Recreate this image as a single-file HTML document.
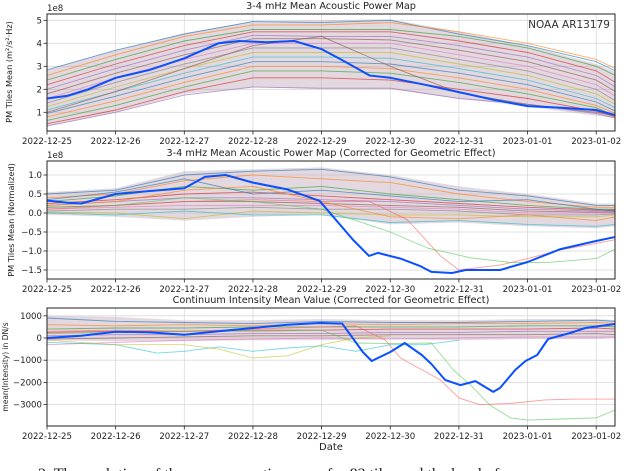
<!DOCTYPE html>
<html><head><meta charset="utf-8"><style>
html,body{margin:0;padding:0;background:#fff;width:640px;height:471px;overflow:hidden}
svg{display:block;font-family:"DejaVu Sans","Liberation Sans",sans-serif}
</style></head><body>
<svg id="chart" width="640" height="471" viewBox="0 0 640 471" style="position:absolute;left:0;top:0"></svg>
<script>
// ---------- DATA ----------
const dateTicks = ["2022-12-25","2022-12-26","2022-12-27","2022-12-28","2022-12-29","2022-12-30","2022-12-31","2023-01-01","2023-01-02"];
const gridDays = [0,1,2,3,4,5,6,7,8,8.28];

// Panel 1 (units 1e8)
const p1Ticks = [1,2,3,4,5];
const p1BandUpper = [2.85,3.7,4.45,4.95,5.0,5.05,4.5,3.9,3.1,2.75];
const p1BandLower = [0.4,1.0,1.8,2.1,2.0,2.0,1.6,1.25,0.85,0.75];
const p1Lines = [
 [2.85,3.7,4.4,4.95,4.9,5.0,4.4,3.9,3.2,2.8],
 [2.6,3.5,4.3,4.8,4.8,4.9,4.5,4.0,3.3,2.9],
 [2.4,3.3,4.1,4.6,4.6,4.6,4.3,3.8,3.0,2.6],
 [2.2,3.1,3.9,4.5,4.5,4.5,4.1,3.6,2.8,2.3],
 [2.0,2.9,3.7,4.35,4.3,4.3,3.9,3.4,2.6,2.1],
 [1.8,2.7,3.5,4.2,4.2,4.15,3.7,3.2,2.4,1.9],
 [1.6,2.5,3.3,4.0,4.0,4.0,3.5,3.0,2.2,1.7],
 [1.4,2.3,3.1,3.8,3.8,3.8,3.3,2.8,2.0,1.5],
 [1.25,2.1,2.9,3.6,3.6,3.6,3.1,2.6,1.8,1.35],
 [1.1,1.9,2.7,3.4,3.4,3.35,2.9,2.4,1.6,1.2],
 [0.95,1.7,2.5,3.2,3.2,3.1,2.7,2.2,1.45,1.05],
 [0.8,1.5,2.3,3.0,3.0,2.9,2.5,2.0,1.3,0.95],
 [0.65,1.3,2.1,2.8,2.8,2.7,2.3,1.8,1.2,0.85],
 [0.5,1.1,1.9,2.5,2.5,2.4,2.0,1.6,1.05,0.8],
 [0.4,1.0,1.75,2.1,2.05,2.05,1.6,1.35,0.95,0.75],
 [1.0,1.9,2.9,3.9,4.3,3.0,1.85,1.35,1.0,0.85]
];
const p1BlueDays = [0,0.3,0.6,1,1.5,2,2.5,2.8,3.2,3.6,4,4.3,4.7,5,5.5,6,6.5,7,7.5,8,8.28];
const p1Blue =     [1.6,1.72,2.0,2.5,2.85,3.35,4.0,4.1,4.05,4.1,3.75,3.27,2.6,2.5,2.2,1.88,1.55,1.27,1.2,1.1,0.88];

// Panel 2 (units 1e8)
const p2Ticks = [-1.5,-1.0,-0.5,0.0,0.5,1.0];
const p2BandUpper = [0.55,0.65,1.1,1.15,1.2,1.0,0.7,0.5,0.25,0.25];
const p2BandLower = [-0.05,-0.1,-0.2,-0.1,-0.05,-0.3,-0.25,-0.35,-0.4,-0.35];
const p2Lines = [
 [0.5,0.6,1.0,1.1,1.15,0.95,0.6,0.45,0.2,0.2],
 [0.4,0.5,0.85,1.0,0.9,0.8,0.5,0.3,0.15,0.15],
 [0.3,0.45,0.7,0.6,0.7,0.5,0.35,0.2,0.1,0.1],
 [0.25,0.35,0.5,0.55,0.45,0.35,0.25,0.15,0.08,0.08],
 [0.2,0.3,0.4,0.4,0.35,0.3,0.2,0.1,0.05,0.05],
 [0.15,0.2,0.3,0.3,0.25,0.2,0.15,0.05,0.02,0.03],
 [0.1,0.15,0.2,0.2,0.2,0.15,0.1,0.0,0.0,0.0],
 [0.05,0.1,0.1,0.15,0.1,0.1,0.05,-0.05,-0.05,-0.02],
 [0.02,0.0,-0.15,0.05,0.0,-0.05,-0.05,-0.1,-0.1,-0.05],
 [0.0,-0.05,0.05,-0.05,-0.05,-0.25,-0.2,-0.3,-0.35,-0.3],
 [0.35,0.55,0.9,0.5,0.6,0.45,0.3,0.35,0.1,0.05],
 [0.2,0.3,0.6,0.7,0.3,-0.1,-0.15,-0.05,-0.2,-0.1]
];
const p2BlueDays = [0,0.3,0.5,1,1.5,2,2.3,2.6,3,3.5,3.97,4.46,4.69,4.82,5.15,5.44,5.6,5.9,6.1,6.6,7,7.48,7.99,8.28];
const p2Blue =     [0.33,0.27,0.25,0.5,0.58,0.65,0.95,1.0,0.8,0.62,0.32,-0.71,-1.13,-1.05,-1.2,-1.4,-1.55,-1.58,-1.5,-1.5,-1.29,-0.95,-0.74,-0.63];
const p2RedDays = [0,1,2,3,4,4.7,5.25,5.73,6,6.6,7,7.48,8,8.28];
const p2Red =     [0.1,0.2,0.3,0.35,0.3,0.3,-0.18,-1.13,-1.5,-1.37,-1.2,-0.97,-0.8,-0.7];
const p2GreenDays = [0,1,2,3,4,4.5,5,5.54,6.17,6.75,7.3,8,8.28];
const p2Green =     [0.15,0.2,0.4,0.3,0.1,-0.2,-0.5,-0.92,-1.18,-1.3,-1.3,-1.2,-0.95];

// Panel 3 (DN/s)
const p3Ticks = [-3000,-2000,-1000,0,1000];
const p3BandUpper = [1000,950,800,800,850,800,800,850,850,800];
const p3BandLower = [-100,-150,-150,-100,-100,-50,-100,-50,-50,0];
const p3Lines = [
 [900,750,700,650,750,700,700,750,800,750],
 [600,550,600,550,650,600,650,650,700,650],
 [400,450,450,500,500,500,500,550,550,500],
 [250,300,300,350,350,400,400,400,450,400],
 [100,150,150,200,200,250,250,300,300,300],
 [-50,0,50,100,100,150,150,150,200,150],
 [-300,-200,-100,-50,0,-50,0,50,50,50]
];
const p3BlueDays = [0,0.5,1,1.5,2,2.5,3,3.5,3.97,4.3,4.6,4.73,5.0,5.21,5.46,5.6,5.8,6.02,6.24,6.5,6.6,6.82,6.97,7.14,7.3,7.62,7.84,8.28];
const p3Blue =     [0,100,285,250,150,300,450,600,675,650,-630,-1035,-630,-225,-765,-1170,-1890,-2120,-1940,-2430,-2250,-1440,-1035,-765,-45,225,450,630];
const p3RedDays = [0,1,2,3,4,4.5,4.93,5.15,5.73,6,6.3,6.75,7.25,7.7,8.28];
const p3Red =     [300,350,300,400,500,550,-100,-900,-1890,-2700,-3000,-2950,-2790,-2750,-2750];
const p3GreenDays = [0,1,2,3,4,4.5,5,5.6,5.92,6.17,6.45,6.75,7,7.5,8,8.28];
const p3Green =     [200,250,300,300,350,-225,-250,-225,-1440,-2120,-3020,-3600,-3700,-3650,-3600,-3240];
const p3CyanDays = [0,1,1.6,2,2.5,3,3.5,4,4.5,5,5.5,6];
const p3Cyan =     [-200,-300,-680,-600,-400,-600,-450,-350,-600,-300,-300,-100];
const p3YellowDays = [0,0.5,1,2,2.5,3,3.5,4,4.5,5];
const p3Yellow =     [-100,-200,-300,-300,-500,-900,-800,-300,0,100];

const palette = ["#1f77b4","#ff7f0e","#2ca02c","#d62728","#9467bd","#8c564b","#e377c2","#7f7f7f","#bcbd22","#17becf"];

// ---------- GEOMETRY ----------
const X0 = 47, X1 = 615, DAYPX = 68.65;
const xs = d => X0 + d * DAYPX;
const panels = [
  {top:14, bottom:131, y: v => 135.3 - v*23},
  {top:161, bottom:279, y: v => 213 - v*38},
  {top:308, bottom:426, y: v => 338 - v*0.0222}
];
const NS = "http://www.w3.org/2000/svg";
const svg = document.getElementById("chart");
function mk(tag, attrs, parent){
  const e = document.createElementNS(NS, tag);
  for (const k in attrs) e.setAttribute(k, attrs[k]);
  (parent||svg).appendChild(e);
  return e;
}
function pathD(days, vals, yf){
  return days.map((d,i)=>(i?"L":"M")+xs(d).toFixed(1)+","+yf(vals[i]).toFixed(1)).join(" ");
}

function drawPanel(pi, ticks, fmt, band, lines, specials){
  const p = panels[pi];
  const g = mk("g", {});
  
  
  const clipId = "clip"+pi;
  const cp = mk("clipPath", {id:clipId}, g);
  mk("rect", {x:X0, y:p.top, width:X1-X0, height:p.bottom-p.top}, cp);
  dateTicks.forEach((t,i)=>{
    const gl = mk("line", {x1:xs(i), x2:xs(i), y1:p.top, y2:p.bottom, stroke:"#d9d9d9", "stroke-width":0.8}, g);
    
    
  });
  ticks.forEach(v=>{
    const gl = mk("line", {x1:X0, x2:X1, y1:p.y(v), y2:p.y(v), stroke:"#d9d9d9", "stroke-width":0.8}, g);
    
    
  });
  const inner = mk("g", {"clip-path":"url(#"+clipId+")"}, g);
  const bd = pathD(gridDays, band[0], p.y) + " " +
     gridDays.slice().reverse().map((d,i)=>"L"+xs(d).toFixed(1)+","+p.y(band[1][band[1].length-1-i]).toFixed(1)).join(" ") + " Z";
  const bp = mk("path", {d:bd, fill:"#c0a8b8", "fill-opacity":0.45, stroke:"none"}, inner);
  
  
  lines.forEach((vals,i)=>{
    const l = mk("path", {d:pathD(gridDays, vals, p.y), fill:"none", stroke:palette[i%10], "stroke-opacity":0.65, "stroke-width":0.9}, inner);
    
    
  });
  specials.forEach(s=>{
    const l = mk("path", {d:pathD(s.days, s.vals, p.y), fill:"none", stroke:s.color, "stroke-opacity":s.op||0.6, "stroke-width":s.w||0.9, "stroke-linejoin":"round"}, inner);
    
    
  });
  const fr = mk("rect", {x:X0, y:p.top, width:X1-X0, height:p.bottom-p.top, fill:"none", stroke:"#222", "stroke-width":1}, g);
  
  
  dateTicks.forEach((t,i)=>{
    mk("line", {x1:xs(i), x2:xs(i), y1:p.bottom, y2:p.bottom+3.5, stroke:"#222", "stroke-width":0.8}, g);
    const tx = mk("text", {x:xs(i), y:p.bottom+13, "font-size":8.6, "text-anchor":"middle", fill:"#222"}, g);
    tx.textContent = t;
    
    
  });
  ticks.forEach(v=>{
    mk("line", {x1:X0-3.5, x2:X0, y1:p.y(v), y2:p.y(v), stroke:"#222", "stroke-width":0.8}, g);
    const tx = mk("text", {x:X0-5, y:p.y(v)+3, "font-size":8.6, "text-anchor":"end", fill:"#222"}, g);
    tx.textContent = fmt(v);
    
    
  });
}

drawPanel(0, p1Ticks, v=>String(v), [p1BandUpper,p1BandLower], p1Lines,
  [{days:p1BlueDays, vals:p1Blue, color:"#0a50ff", op:1, w:2, name:"highlight-tile-line"}]);
drawPanel(1, p2Ticks, v=>(v<0?"\u2212":"")+Math.abs(v).toFixed(1), [p2BandUpper,p2BandLower], p2Lines,
  [{days:p2RedDays, vals:p2Red, color:"#ff5a5a", name:"red-tile-line"},
   {days:p2GreenDays, vals:p2Green, color:"#4cc44c", name:"green-tile-line"},
   {days:p2BlueDays, vals:p2Blue, color:"#0a50ff", op:1, w:2, name:"highlight-tile-line"}]);
drawPanel(2, p3Ticks, v=>(v<0?"\u2212":"")+Math.abs(v), [p3BandUpper,p3BandLower], p3Lines,
  [{days:p3CyanDays, vals:p3Cyan, color:"#17becf", name:"cyan-tile-line"},
   {days:p3YellowDays, vals:p3Yellow, color:"#bcbd22", name:"yellow-tile-line"},
   {days:p3RedDays, vals:p3Red, color:"#ff5a5a", name:"red-tile-line"},
   {days:p3GreenDays, vals:p3Green, color:"#4cc44c", name:"green-tile-line"},
   {days:p3BlueDays, vals:p3Blue, color:"#0a50ff", op:1, w:2, name:"highlight-tile-line"}]);
</script>
<svg width="640" height="471" style="position:absolute;left:0;top:0;pointer-events:none;font-family:'DejaVu Sans','Liberation Sans',sans-serif">
  <text x="331" y="9" font-size="9.7" text-anchor="middle" fill="#222">3-4 mHz Mean Acoustic Power Map</text>
  <text x="47" y="11" font-size="8.6" fill="#222">1e8</text>
  <text x="569" y="28" font-size="10.5" text-anchor="middle" fill="#333">NOAA  AR13179</text>
  <text transform="translate(12,72) rotate(-90)" font-size="8.2" text-anchor="middle" fill="#222">PM Tiles Mean (m²/s²·Hz)</text>
  <text x="331" y="156" font-size="9.7" text-anchor="middle" fill="#222">3-4 mHz Mean Acoustic Power Map (Corrected for Geometric Effect)</text>
  <text x="47" y="158" font-size="8.6" fill="#222">1e8</text>
  <text transform="translate(14,220) rotate(-90)" font-size="8.2" text-anchor="middle" fill="#222">PM Tiles Mean (Normalized)</text>
  <text x="331" y="303" font-size="9.7" text-anchor="middle" fill="#222">Continuum Intensity Mean Value (Corrected for Geometric Effect)</text>
  <text transform="translate(8,367) rotate(-90)" font-size="7.5" text-anchor="middle" fill="#222">mean(Intensity) in DN/s</text>
  <text x="331" y="450" font-size="10" text-anchor="middle" fill="#222">Date</text>
  <text x="38" y="479" font-size="16" fill="#222" font-family="'Liberation Serif',serif">2.  The evolution of the mean acoustic power for 83 tiles and the level of ...</text>
</svg>
</body></html>
